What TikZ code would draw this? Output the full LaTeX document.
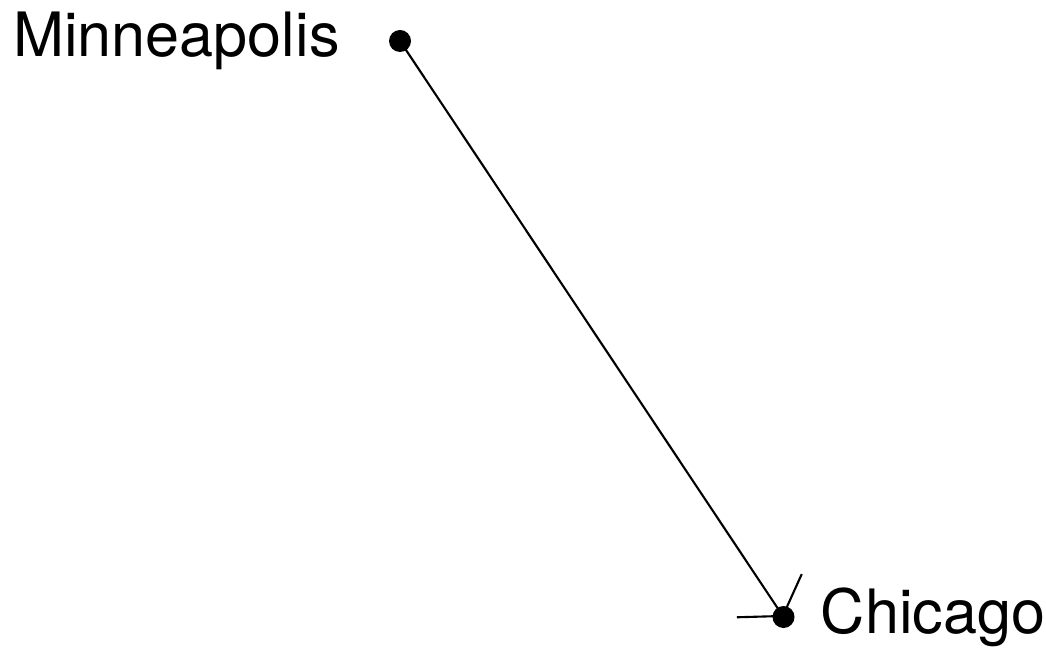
\documentclass[tikz,border=0pt]{standalone}
\usepackage{fontspec}
\setmainfont{TeX Gyre Heros}
\usepackage{tikz}
\usetikzlibrary{arrows.meta, positioning}

\begin{document}
\begin{tikzpicture}[
  city/.style={circle, fill=black, inner sep=0pt, minimum size=0.22cm},
  cityname/.style={inner sep=0pt, font=\fontsize{17.4}{21}\selectfont},
  route/.style={-{Straight Barb[length=0.244cm, width=0.78cm]}, line width=0.6pt}
]

% --- Frame ---
\useasboundingbox (0,0) rectangle (10.46,-6.47);

% --- Cities ---
\node[city] (minn) at (4.00,-0.41) {};
\node[city] (chi)  at (7.835,-6.17) {};

% --- Names ---
\node[cityname, left=0.48cm of minn] (minnname) {Minneapolis};
\node[cityname, right=0.25cm of chi] (chiname) {Chicago};

% --- Route ---
\draw[route] (minn.center) -- (chi.center);

\end{tikzpicture}
\end{document}
